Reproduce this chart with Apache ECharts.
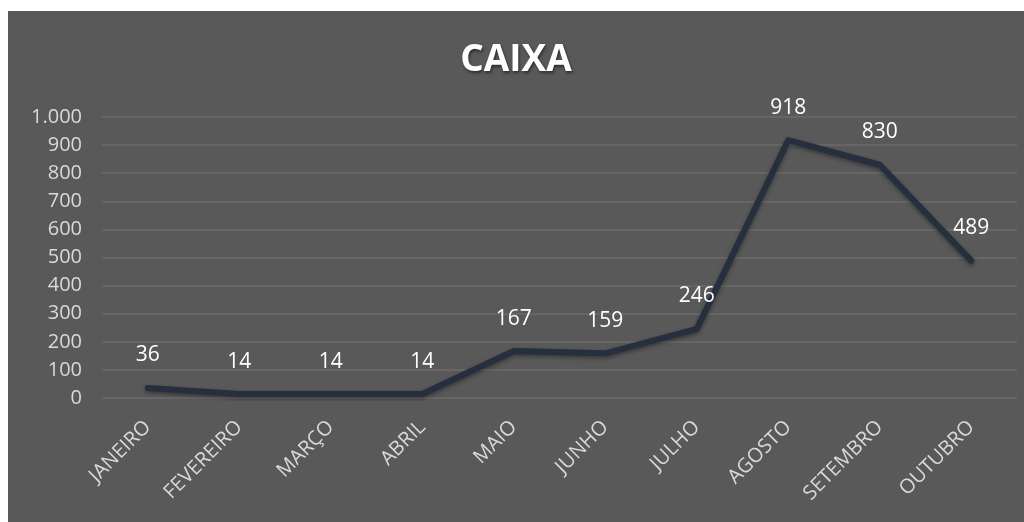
<!DOCTYPE html>
<html>
<head>
<meta charset="utf-8">
<script src="https://cdn.jsdelivr.net/npm/echarts@6/dist/echarts.min.js"></script>
<style>
  html, body { margin: 0; padding: 0; background: #ffffff; }
  #chart { position: absolute; left: 8px; top: 11px; width: 1016px; height: 511px; }
</style>
</head>
<body>
<div id="chart"></div>
<script>
var meses = ['JANEIRO', 'FEVEREIRO', 'MARÇO', 'ABRIL', 'MAIO', 'JUNHO', 'JULHO', 'AGOSTO', 'SETEMBRO', 'OUTUBRO'];
var caixa = [36, 14, 14, 14, 167, 159, 246, 918, 830, 489];

var myChart = echarts.init(document.getElementById('chart'));
var option = {
  backgroundColor: '#595959',
  title: {
    text: 'CAIXA',
    left: 'center',
    top: 26,
    textStyle: {
      color: '#ffffff',
      fontFamily: 'Open Sans',
      fontWeight: 'bold',
      fontSize: 37,
      textShadowColor: 'rgba(0,0,0,0.5)',
      textShadowBlur: 3,
      textShadowOffsetX: 1,
      textShadowOffsetY: 2
    }
  },
  grid: { left: 94, right: 7, top: 106, bottom: 124 },
  xAxis: {
    type: 'category',
    data: meses,
    axisLine: { show: false },
    axisTick: { show: false },
    axisLabel: {
      rotate: 45,
      color: '#d9d9d9',
      fontFamily: 'Open Sans',
      fontSize: 20,
      margin: 26,
      interval: 0
    }
  },
  yAxis: {
    type: 'value',
    min: 0,
    max: 1000,
    interval: 100,
    axisLine: { show: false },
    axisTick: { show: false },
    splitLine: { lineStyle: { color: '#6b6b6b', width: 1.5 } },
    axisLabel: {
      color: '#d9d9d9',
      fontFamily: 'Open Sans',
      fontSize: 20,
      margin: 20,
      formatter: function (v) { return v.toLocaleString('de-DE'); }
    }
  },
  series: [{
    type: 'line',
    data: caixa,
    symbol: 'circle',
    symbolSize: 2,
    showSymbol: true,
    itemStyle: { color: 'rgba(0,0,0,0)', borderWidth: 0 },
    lineStyle: {
      color: '#262f3e',
      width: 6,
      cap: 'round',
      join: 'round',
      shadowColor: 'rgba(0,0,0,0.4)',
      shadowBlur: 4,
      shadowOffsetY: 2
    },
    label: {
      show: true,
      position: 'top',
      distance: 21,
      color: '#ffffff',
      fontFamily: 'Open Sans',
      fontSize: 21
    }
  }]
};
myChart.setOption(option);
</script>
</body>
</html>
